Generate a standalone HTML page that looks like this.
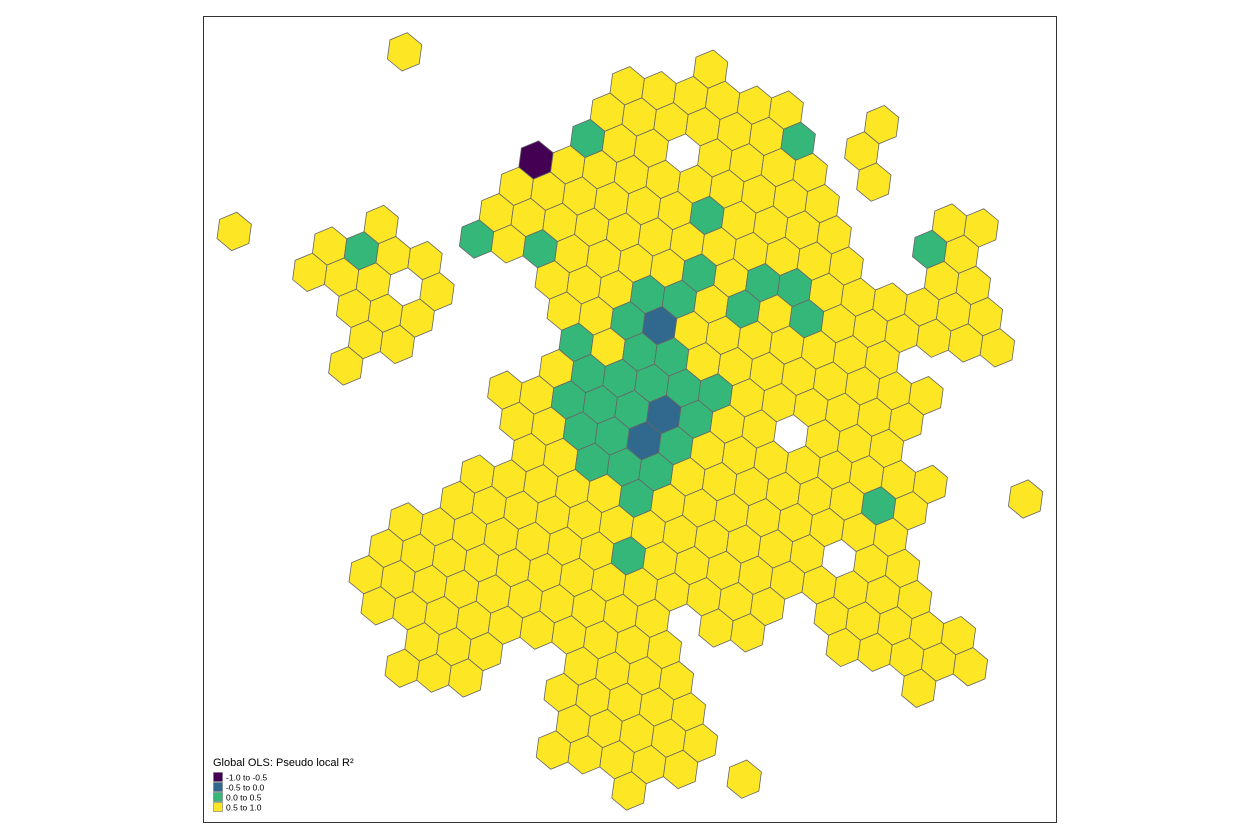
<!DOCTYPE html>
<html>
<head>
<meta charset="utf-8">
<style>
  html,body{margin:0;padding:0;background:#fff;}
  body{width:1260px;height:840px;overflow:hidden;font-family:"Liberation Sans",sans-serif;}
  svg{display:block;}
</style>
</head>
<body>
<svg id="map" width="1260" height="840" viewBox="0 0 1260 840">
  <rect x="203.5" y="16.5" width="853" height="806" fill="#fff" stroke="#333" stroke-width="1"/>
  <g id="cells"></g>
  <g>
    <text x="213" y="766" font-size="11" fill="#000">Global OLS: Pseudo local R²</text>
    <g>
      <rect x="213.5" y="772.5" width="9" height="9" fill="#440154" stroke="#777" stroke-width="0.6"/>
      <text x="226" y="780.5" font-size="8.5" fill="#000">-1.0 to -0.5</text>
    </g>
    <g>
      <rect x="213.5" y="782.5" width="9" height="9" fill="#31688E" stroke="#777" stroke-width="0.6"/>
      <text x="226" y="790.5" font-size="8.5" fill="#000">-0.5 to 0.0</text>
    </g>
    <g>
      <rect x="213.5" y="792.5" width="9" height="9" fill="#35B779" stroke="#777" stroke-width="0.6"/>
      <text x="226" y="800.5" font-size="8.5" fill="#000">0.0 to 0.5</text>
    </g>
    <g>
      <rect x="213.5" y="802.5" width="9" height="9" fill="#FDE725" stroke="#777" stroke-width="0.6"/>
      <text x="226" y="810.5" font-size="8.5" fill="#000">0.5 to 1.0</text>
    </g>
  </g>
</svg>
<script>
// Hex-grid data: each row k has a starting column and a string of classes
// P = -1.0 to -0.5, B = -0.5 to 0.0, G = 0.0 to 0.5, Y = 0.5 to 1.0, . = no cell
const rowK = [-4,-3,-2,-1,0,1,2,3,4,5,6,7,8,9,10,11,12,13,14,15,16,17,18,19,20,21];
const rowStart = [7,-3,3,2,0,-1,-2,-6,-11,-9,-8,-8,-9,-4,-4,-6,-7,-9,-10,-11,-11,-10,-11,-6,-7,-5];
const rowCells = [
  "Y",
  "Y......YYYYYY..Y",
  "YYYYYYG.Y",
  "GYY.YYYY.Y",
  "PYYYYYYYYY...YY",
  "YYYYYYGYYYY..GY",
  "YYYYYYYYYYYY..YY",
  "Y..GYGYYYYGYGGYYYYYY",
  "Y..YGYY...YYYGGYGYGYYYYYY",
  "YYY.Y...YYGBYYYYYYY",
  "YYY....GYGGYYYYYYYY",
  "YY....YGGGGGYYYYYY",
  "Y....YYGGGBGYY.YYY",
  "YYGGBGYYYYYYYY..Y",
  "YYGGGYYYYYYGY",
  "YYYYYGYYYYYYYY",
  "YYYYYYYYYYYY.YY",
  "YYYYYYYGYYYYYYYYY",
  "YYYYYYYYYYYYY.YYYYY",
  "YYYYYYYYYY.YY..YYYYY",
  "YYYYYYYYYY.......Y",
  "YYY..YYYY",
  "YYY..YYYYY",
  "YYYYY",
  "YYYYY.Y",
  "Y"
];
const classCodes = ["P","B","G","Y"];
const classColors = ["#440154","#31688E","#35B779","#FDE725"];

// Grid geometry (affine hex lattice)
const origin = {x:536, y:160};
const aVec = {x:31.8, y:4.85};   // right neighbour
const drVec = {x:12.0, y:31.2};  // down-right neighbour
function cellX(c,k){ return origin.x + c*aVec.x + k*drVec.x; }
function cellY(c,k){ return origin.y + c*aVec.y + k*drVec.y; }
const dlVec = {x:drVec.x-aVec.x, y:drVec.y-aVec.y};
const v1 = {x:(aVec.x+drVec.x)/3, y:(aVec.y+drVec.y)/3};
const v2 = {x:(drVec.x+dlVec.x)/3, y:(drVec.y+dlVec.y)/3};
const v3 = {x:(dlVec.x-aVec.x)/3, y:(dlVec.y-aVec.y)/3};
const verts = [v1,v2,v3,{x:-v1.x,y:-v1.y},{x:-v2.x,y:-v2.y},{x:-v3.x,y:-v3.y}];

const NS = "http://www.w3.org/2000/svg";
const g = document.getElementById("cells");
for (let r = 0; r < rowK.length; r++) {
  const k = rowK[r];
  const s = rowCells[r];
  for (let i = 0; i < s.length; i++) {
    const ch = s[i];
    const ci = classCodes.indexOf(ch);
    if (ci < 0) continue;
    const c = rowStart[r] + i;
    const cx = cellX(c,k), cy = cellY(c,k);
    const pts = verts.map(v => (cx+v.x).toFixed(2)+","+(cy+v.y).toFixed(2)).join(" ");
    const poly = document.createElementNS(NS,"polygon");
    poly.setAttribute("points", pts);
    poly.setAttribute("fill", classColors[ci]);
    poly.setAttribute("stroke", "#666");
    poly.setAttribute("stroke-width", "0.8");
    
    
    g.appendChild(poly);
  }
}
</script>
</body>
</html>
